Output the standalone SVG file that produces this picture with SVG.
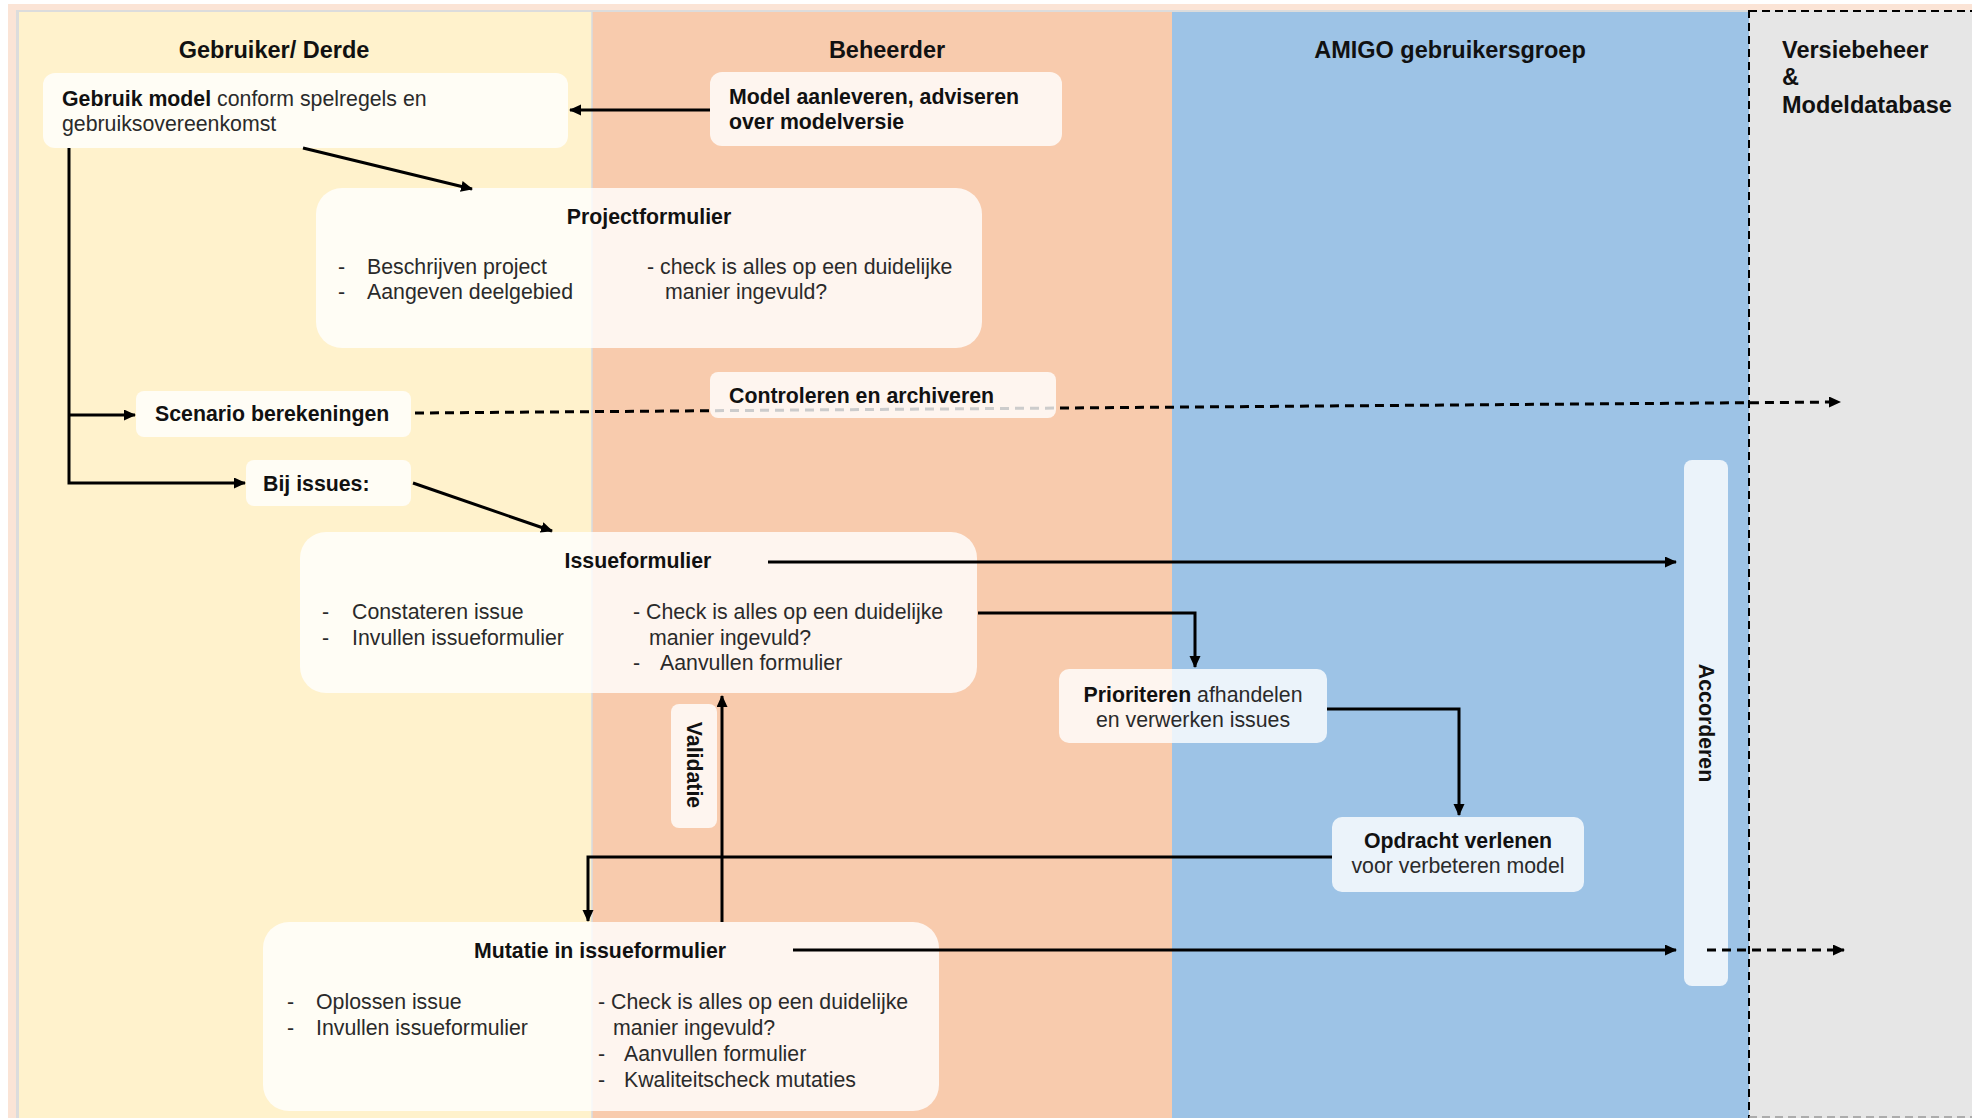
<svg xmlns="http://www.w3.org/2000/svg" width="1972" height="1118" viewBox="0 0 1972 1118">
<style>
text{font-family:"Liberation Sans",Arial,sans-serif;fill:#1c1c1c;font-size:21.3px}
.h{font-size:23.5px;font-weight:bold;fill:#111}
.b{font-weight:bold;fill:#111}
.r{fill:#2a2a2a}
.mid{text-anchor:middle}
.node{fill:#fff;fill-opacity:0.8}
.c{stroke:#000;stroke-width:3;fill:none}
.d{stroke-dasharray:9 6}
</style>
<defs>
<marker id="ah" markerUnits="userSpaceOnUse" markerWidth="14" markerHeight="12" refX="11" refY="5.5" orient="auto">
<path d="M0,0 L12,5.5 L0,11 z" fill="#000"/>
</marker>
</defs>
<g id="lanes">
<rect x="0" y="0" width="1972" height="1118" fill="#fff"/>
<rect x="8" y="4" width="1964" height="1114" fill="#fbe4d6"/>
<rect x="16" y="10" width="1733" height="1108" fill="#dcdcdc"/>
<rect x="19" y="12" width="573" height="1106" fill="#fff2cc"/>
<rect x="592" y="12" width="580" height="1106" fill="#f8cbad"/>
<rect x="1172" y="12" width="577" height="1106" fill="#9dc3e6"/>
<rect x="1749" y="10" width="223" height="1108" fill="#e6e6e6"/>
<line x1="592" y1="12" x2="592" y2="1118" stroke="#d7dbe0" stroke-width="1.5"/>
<line x1="1749" y1="10" x2="1749" y2="1118" stroke="#000" stroke-width="2" stroke-dasharray="8 5"/>
<line x1="1749" y1="11" x2="1972" y2="11" stroke="#000" stroke-width="2" stroke-dasharray="8 5"/>
<line x1="1749" y1="1117" x2="1972" y2="1117" stroke="#999" stroke-width="1.5" stroke-dasharray="8 5"/>
<text class="h mid" x="274" y="58">Gebruiker/ Derde</text>
<text class="h mid" x="887" y="58">Beheerder</text>
<text class="h mid" x="1450" y="58">AMIGO gebruikersgroep</text>
<text class="h" x="1782" y="58">Versiebeheer</text>
<text class="h" x="1782" y="85">&amp;</text>
<text class="h" x="1782" y="113">Modeldatabase</text>
</g>
<g id="gebruik-model">
<rect class="node" x="43" y="73" width="525" height="75" rx="12"/>
<text x="62" y="106"><tspan class="b">Gebruik model</tspan><tspan class="r"> conform spelregels en</tspan></text>
<text class="r" x="62" y="131">gebruiksovereenkomst</text>
</g>
<g id="model-aanleveren">
<rect class="node" x="710" y="72" width="352" height="74" rx="12"/>
<text class="b" x="729" y="104">Model aanleveren, adviseren</text>
<text class="b" x="729" y="129">over modelversie</text>
</g>
<g id="projectformulier">
<rect class="node" x="316" y="188" width="666" height="160" rx="26"/>
<text class="b mid" x="649" y="224">Projectformulier</text>
<text class="r" x="338" y="274">-</text>
<text class="r" x="367" y="274">Beschrijven project</text>
<text class="r" x="338" y="299">-</text>
<text class="r" x="367" y="299">Aangeven deelgebied</text>
<text class="r" x="647" y="274">- check is alles op een duidelijke</text>
<text class="r" x="665" y="299">manier ingevuld?</text>
</g>
<g id="scenario">
<rect class="node" x="136" y="391" width="275" height="46" rx="8"/>
<text class="b" x="155" y="421">Scenario berekeningen</text>
</g>
<g id="bij-issues">
<rect class="node" x="246" y="460" width="165" height="46" rx="8"/>
<text class="b" x="263" y="491">Bij issues:</text>
</g>
<g id="issueformulier">
<rect class="node" x="300" y="532" width="677" height="161" rx="26"/>
<text class="b mid" x="638" y="568">Issueformulier</text>
<text class="r" x="322" y="619">-</text>
<text class="r" x="352" y="619">Constateren issue</text>
<text class="r" x="322" y="645">-</text>
<text class="r" x="352" y="645">Invullen issueformulier</text>
<text class="r" x="633" y="619">- Check is alles op een duidelijke</text>
<text class="r" x="649" y="645">manier ingevuld?</text>
<text class="r" x="633" y="670">-</text>
<text class="r" x="660" y="670">Aanvullen formulier</text>
</g>
<g id="prioriteren">
<rect class="node" x="1059" y="669" width="268" height="74" rx="10"/>
<text class="mid" x="1193" y="702"><tspan class="b">Prioriteren</tspan><tspan class="r"> afhandelen</tspan></text>
<text class="r mid" x="1193" y="727">en verwerken issues</text>
</g>
<g id="opdracht">
<rect class="node" x="1332" y="817" width="252" height="75" rx="10"/>
<text class="b mid" x="1458" y="848">Opdracht verlenen</text>
<text class="r mid" x="1458" y="873">voor verbeteren model</text>
</g>
<g id="validatie">
<rect class="node" x="671" y="704" width="46" height="124" rx="8"/>
<text class="b mid" transform="translate(687 765) rotate(90)" x="0" y="0">Validatie</text>
</g>
<g id="accorderen">
<rect class="node" x="1684" y="460" width="44" height="526" rx="8"/>
<text class="b mid" transform="translate(1699 723) rotate(90)" x="0" y="0">Accorderen</text>
</g>
<g id="mutatie">
<rect class="node" x="263" y="922" width="676" height="189" rx="26"/>
<text class="b mid" x="600" y="958">Mutatie in issueformulier</text>
<text class="r" x="287" y="1009">-</text>
<text class="r" x="316" y="1009">Oplossen issue</text>
<text class="r" x="287" y="1035">-</text>
<text class="r" x="316" y="1035">Invullen issueformulier</text>
<text class="r" x="598" y="1009">- Check is alles op een duidelijke</text>
<text class="r" x="613" y="1035">manier ingevuld?</text>
<text class="r" x="598" y="1061">-</text>
<text class="r" x="624" y="1061">Aanvullen formulier</text>
<text class="r" x="598" y="1087">-</text>
<text class="r" x="624" y="1087">Kwaliteitscheck mutaties</text>
</g>
<g id="connectors">
<path class="c" d="M710,110 L570,110" marker-end="url(#ah)"/>
<path class="c" d="M303,148 L472,189" marker-end="url(#ah)"/>
<path class="c" d="M69,148 V483 H245" marker-end="url(#ah)"/>
<path class="c" d="M69,415 H135" marker-end="url(#ah)"/>
<path class="c" d="M413,483 L552,531" marker-end="url(#ah)"/>
<path class="c d" d="M415,413 L1840,402" marker-end="url(#ah)"/>
<path class="c" d="M768,562 H1676" marker-end="url(#ah)"/>
<path class="c" d="M978,613 H1195 V667" marker-end="url(#ah)"/>
<path class="c" d="M1327,709 H1459 V815" marker-end="url(#ah)"/>
<path class="c" d="M1332,857 H588 V921" marker-end="url(#ah)"/>
<path class="c" d="M722,922 V696" marker-end="url(#ah)"/>
<path class="c" d="M793,950 H1676" marker-end="url(#ah)"/>
<path class="c d" d="M1707,950 H1844" marker-end="url(#ah)"/>
</g>
<g id="controleren">
<rect class="node" x="710" y="372" width="346" height="46" rx="8"/>
<text class="b" x="729" y="403">Controleren en archiveren</text>
</g>
</svg>
